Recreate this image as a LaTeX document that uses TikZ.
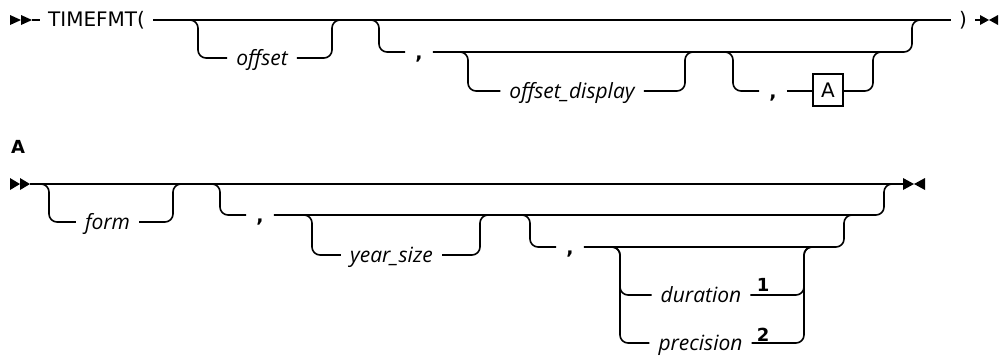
\documentclass[tikz,border=0pt]{standalone}
\usepackage{fontspec}
\setmainfont{Open Sans}
\newfontfamily\kwfont{DejaVu Sans}
\begin{document}
\begin{tikzpicture}[x=1pt,y=-1pt,
  ln/.style={line width=1.6pt},
  rr/.style={line width=1.6pt, rounded corners=8pt},
  kw/.style={inner xsep=8pt, inner ysep=0pt, text height=18pt, text depth=4pt, font=\kwfont\fontsize{20}{22}\selectfont},
  var/.style={inner xsep=9pt, inner ysep=0pt, text height=18.5pt, text depth=4pt, font=\fontsize{21}{23}\selectfont\itshape},
  sep/.style={inner xsep=10pt, inner ysep=0pt, text height=18pt, text depth=4pt, font=\kwfont\fontsize{19}{21}\selectfont\bfseries},
  refbox/.style={draw, line width=1.4pt, minimum width=30pt, minimum height=32pt, inner sep=0pt, font=\kwfont\fontsize{20}{22}\selectfont},
  note/.style={inner sep=0pt, font=\kwfont\fontsize{18}{20}\selectfont\bfseries},
  tipfill/.style={fill=black}
]
\useasboundingbox (0,0) rectangle (1000,356);

% ---------------- top diagram ----------------
\coordinate (st1) at (32,20);
\fill[tipfill] (10,15) -- (21,20) -- (10,25) -- cycle;
\fill[tipfill] (21,15) -- (32,20) -- (21,25) -- cycle;
\node[kw, anchor=west] (tf) at (40,20) {TIMEFMT(};
\node[kw] (rp) at (963,20) {)};
\coordinate (en1) at (980,20);
\draw[ln] (st1) -- (tf.west);
\draw[ln] (tf.east) -- (rp.west);
\draw[ln] (rp.east) -- (en1);
\fill[tipfill] (980,15) -- (989,20) -- (980,25) -- cycle;
\fill[tipfill] (998,15) -- (989,20) -- (998,25) -- cycle;

% offset
\node[var] (off) at (262,58) {offset};
\coordinate (a1) at (188,20); \coordinate (a1d) at (198,58);
\coordinate (a2u) at (332,20); \coordinate (a2) at (342,20);
\draw[rr] (a1) -| (a1d) -- (off.west);
\draw[rr] (off.east) -| (a2u) -- (a2);

% , group
\node[sep] (c1) at (419,52) {,};
\coordinate (b1) at (369,20); \coordinate (b1d) at (379,52);
\coordinate (b2u) at (912,20); \coordinate (b2) at (922,20);
\draw[rr] (b1) -| (b1d) -- (c1.west);
\draw[rr] (c1.east) -| (b2u) -- (b2);

% offset_display
\node[var] (od) at (572,91) {offset\_display};
\coordinate (d1) at (458,52); \coordinate (d1d) at (468,91);
\coordinate (d2u) at (685,52); \coordinate (d2) at (695,52);
\draw[rr] (d1) -| (d1d) -- (od.west);
\draw[rr] (od.east) -| (d2u) -- (d2);

% , A
\node[sep] (c2) at (773,91) {,};
\node[refbox] (ba) at (828,90) {A};
\coordinate (e1) at (723,52); \coordinate (e1d) at (733,91);
\coordinate (e2u) at (873,52); \coordinate (e2) at (883,52);
\draw[rr] (e1) -| (e1d) -- (c2.west);
\draw[ln] (c2.east) -- (ba.west |- c2.east);
\draw[rr] (ba.east |- c2.east) -| (e2u) -- (e2);

% ---------------- fragment A ----------------
\node[inner sep=0pt, font=\kwfont\fontsize{18}{20}\selectfont\bfseries] (lblA) at (18,146.5) {A};

\coordinate (st2) at (30,184);
\coordinate (en2) at (903,184);
\fill[tipfill] (10,178) -- (20,184) -- (10,190) -- cycle;
\fill[tipfill] (20,178) -- (30,184) -- (20,190) -- cycle;
\draw[ln] (st2) -- (en2);
\fill[tipfill] (903,178) -- (914,184) -- (903,190) -- cycle;
\fill[tipfill] (925,178) -- (914,184) -- (925,190) -- cycle;

% form
\node[var] (fm) at (107.5,222) {form};
\coordinate (f1) at (39,184); \coordinate (f1d) at (49,222);
\coordinate (f2u) at (173,184); \coordinate (f2) at (183,184);
\draw[rr] (f1) -| (f1d) -- (fm.west);
\draw[rr] (fm.east) -| (f2u) -- (f2);

% , group 1
\node[sep] (c3) at (260,215) {,};
\coordinate (g1) at (210,184); \coordinate (g1d) at (220,215);
\coordinate (g2u) at (884,184); \coordinate (g2) at (894,184);
\draw[rr] (g1) -| (g1d) -- (c3.west);
\draw[rr] (c3.east) -| (g2u) -- (g2);

% year_size
\node[var] (ys) at (391.5,255) {year\_size};
\coordinate (h1) at (302,215); \coordinate (h1d) at (312,255);
\coordinate (h2u) at (480,215); \coordinate (h2) at (490,215);
\draw[rr] (h1) -| (h1d) -- (ys.west);
\draw[rr] (ys.east) -| (h2u) -- (h2);

% , group 2
\node[sep] (c4) at (570,247) {,};
\coordinate (k1) at (520,215); \coordinate (k1d) at (530,247);
\coordinate (k2u) at (844,215); \coordinate (k2) at (854,215);
\draw[rr] (k1) -| (k1d) -- (c4.west);
\draw[rr] (c4.east) -| (k2u) -- (k2);

% duration / precision
\node[var] (du) at (701,295) {duration};
\node[var] (pr) at (700.5,343) {precision};
\node[note] (n1) at (763,284.5) {1};
\node[note] (n2) at (763,334.5) {2};
\coordinate (m1) at (610,247);
\coordinate (m1a) at (620,295); \coordinate (m1b) at (620,343);
\coordinate (m2u) at (804,247); \coordinate (m2) at (814,247);
\draw[rr] (m1) -| (m1a) -- (du.west);
\draw[rr] (m1) -| (m1b) -- (pr.west);
\draw[rr] (du.east) -| (m2u) -- (m2);
\draw[rr] (pr.east) -| (m2u) -- (m2);
\end{tikzpicture}
\end{document}
